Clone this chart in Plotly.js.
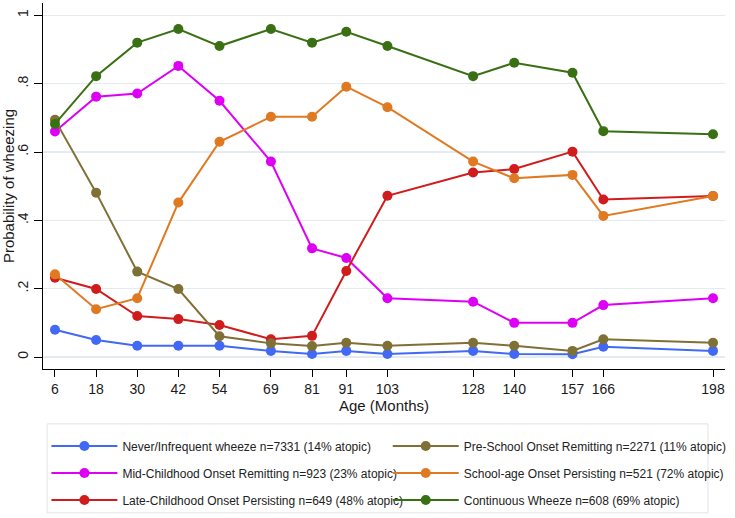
<!DOCTYPE html>
<html>
<head>
<meta charset="utf-8">
<script src="https://cdn.plot.ly/plotly-3.0.1.min.js"></script>
<style>
  html, body { margin: 0; padding: 0; background: #fff; }
  #chart { width: 735px; height: 518px; }
</style>
</head>
<body>
<div id="chart"></div>
<script>
// Ages (months) at which wheeze was assessed
const ages = [6, 18, 30, 42, 54, 69, 81, 91, 103, 128, 140, 157, 166, 198];

// Series names
const names = [
  "Never/Infrequent wheeze n=7331 (14% atopic)",
  "Mid-Childhood Onset Remitting n=923 (23% atopic)",
  "Late-Childhood Onset Persisting n=649 (48% atopic)",
  "Pre-School Onset Remitting n=2271 (11% atopic)",
  "School-age Onset Persisting n=521 (72% atopic)",
  "Continuous Wheeze n=608 (69% atopic)"
];

// Probability of wheezing for each phenotype
const neverInfrequent = [0.08, 0.05, 0.033, 0.033, 0.033, 0.018, 0.009, 0.018, 0.009, 0.018, 0.009, 0.008, 0.03, 0.018];
const midChildhood    = [0.66, 0.762, 0.771, 0.852, 0.75, 0.572, 0.318, 0.29, 0.172, 0.162, 0.10, 0.10, 0.152, 0.172];
const lateChildhood   = [0.232, 0.199, 0.12, 0.111, 0.094, 0.052, 0.062, 0.252, 0.472, 0.54, 0.55, 0.601, 0.461, 0.471];
const preSchool       = [0.694, 0.481, 0.25, 0.199, 0.061, 0.04, 0.032, 0.042, 0.033, 0.042, 0.033, 0.018, 0.052, 0.042];
const schoolAge       = [0.242, 0.14, 0.172, 0.452, 0.63, 0.703, 0.703, 0.791, 0.731, 0.572, 0.523, 0.533, 0.413, 0.471];
const continuous      = [0.682, 0.822, 0.92, 0.96, 0.91, 0.96, 0.92, 0.952, 0.91, 0.822, 0.861, 0.832, 0.661, 0.652];

// Y tick labels
const yTickVals = [0, 0.2, 0.4, 0.6, 0.8, 1];
const yTickText = ["0", ".2", ".4", ".6", ".8", "1"];

const colors = ["#4169f5", "#dd00f5", "#d01c1c", "#7f7035", "#e07a22", "#3a7014"];
const seriesData = [neverInfrequent, midChildhood, lateChildhood, preSchool, schoolAge, continuous];
const legendIds = ["legend", "legend", "legend", "legend2", "legend2", "legend2"];

const traces = seriesData.map((ys, i) => ({
  type: "scatter",
  mode: "lines+markers",
  x: ages,
  y: ys,
  name: names[i],
  legend: legendIds[i],
  legendgroup: "g" + i,
  line: { color: colors[i], width: 2 },
  marker: { color: colors[i], size: 10, symbol: "circle" },
  hoverinfo: "skip"
}));

const font = "Liberation Sans, Arial, Helvetica, sans-serif";

const legendCommon = {
  orientation: "v",
  traceorder: "grouped",
  tracegroupgap: 8,
  itemwidth: 66,
  bgcolor: "rgba(0,0,0,0)",
  borderwidth: 0,
  font: { family: font, size: 12, color: "#222" },
  xanchor: "left",
  yanchor: "top",
  itemclick: false,
  itemdoubleclick: false
};

const layout = {
  width: 735,
  height: 518,
  margin: { l: 43, r: 8, t: 3, b: 149 },
  paper_bgcolor: "#ffffff",
  plot_bgcolor: "#ffffff",
  font: { family: font, size: 14, color: "#1a1a1a" },
  showlegend: true,
  xaxis: {
    range: [2.5, 201.5],
    tickmode: "array",
    tickvals: ages,
    ticktext: ages.map(String),
    ticks: "outside",
    ticklen: 7,
    tickwidth: 1,
    tickcolor: "#000",
    showline: true,
    linecolor: "#000",
    linewidth: 1,
    showgrid: false,
    zeroline: false,
    tickfont: { family: font, size: 14, color: "#1a1a1a" },
    title: { text: "Age (Months)", font: { family: font, size: 15, color: "#1a1a1a" }, standoff: 1 }
  },
  yaxis: {
    range: [-0.035, 1.036],
    tickmode: "array",
    tickvals: yTickVals,
    ticktext: yTickText,
    tickangle: -90,
    ticks: "outside",
    ticklen: 8,
    tickwidth: 1,
    tickcolor: "#000",
    showline: true,
    linecolor: "#000",
    linewidth: 1,
    showgrid: true,
    gridcolor: "#e4ebf0",
    gridwidth: 1.5,
    zeroline: false,
    tickfont: { family: font, size: 14, color: "#1a1a1a" },
    title: { text: "Probability of wheezing", font: { family: font, size: 15, color: "#1a1a1a" }, standoff: 0 }
  },
  legend: Object.assign({}, legendCommon, { x: 0.005, y: -0.171 }),
  legend2: Object.assign({}, legendCommon, { x: 0.5055, y: -0.171 }),
  shapes: [{
    type: "rect",
    xref: "paper", yref: "paper",
    x0: 0.006, x1: 0.975, y0: -0.393, y1: -0.150,
    line: { color: "#dfe5ea", width: 1 },
    fillcolor: "rgba(0,0,0,0)"
  }]
};

Plotly.newPlot("chart", traces, layout, { displayModeBar: false, staticPlot: true });
</script>
</body>
</html>
